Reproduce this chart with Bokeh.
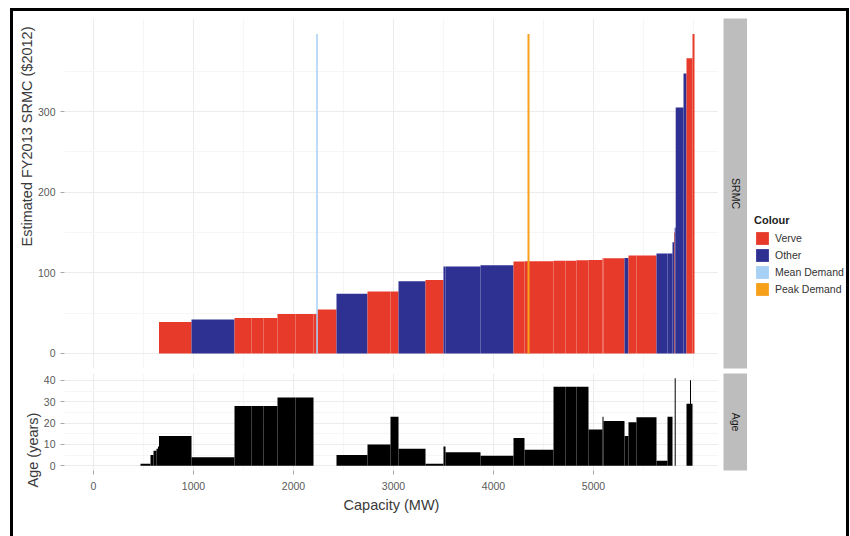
import numpy as np
from math import pi
from bokeh.plotting import figure
from bokeh.models import ColumnDataSource, Range1d, FixedTicker, Legend, LegendItem, Title, Spacer
from bokeh.layouts import row, column
from bokeh.embed import file_html
from bokeh.resources import INLINE
from bokeh.core.properties import value

nan = float("nan")

# ---------------- data (units in merit order) ----------------
capacity_mw = [470, 100, 30, 30, 15, 10, 325, 430, 170, 120, 140, 180, 180, 40, 190,
               310, 230, 80, 270, 180, 20, 350, 330, 110, 290, 120, 110, 120, 140, 10,
               210, 40, 80, 200, 110, 50, 15, 7, 10, 78, 30, 35, 10, 15, 20]
srmc = [0, 0, 0, 0, 0, 0, 39, 42, 44, 44, 44, 49, 49, 49, 54.5,
        74, 77, 77, 89.5, 91, 108, 108, 109.5, 114, 114.5, 115, 115, 115.5, 116, 118,
        118, 118.5, 121.5, 121.5, 124, 124, 138, 150, 156, 305, 347, 366, 366, 366, 396]
age_years = [nan, 1, 5, 7, 8, 9, 14, 4, 28, 28, 28, 32, 32, nan, nan,
             5, 10, 23, 8, 1, 9, 6.3, 4.7, 13, 7.5, 37, 37, 37, 17, 23,
             21, 14, 20.4, 22.7, 2.4, 23, nan, nan, 41, nan, nan, 29, 40, 29, nan]
owner = ["Other"] * 6 + ["Verve", "Other", "Verve", "Verve", "Verve", "Verve", "Verve", "Verve", "Verve",
         "Other", "Verve", "Verve", "Other", "Verve", "Other", "Other", "Other", "Verve", "Verve",
         "Verve", "Verve", "Verve", "Verve", "Verve", "Verve", "Other", "Verve", "Verve", "Other",
         "Other", "Other", "Verve", "Other", "Other", "Other", "Verve", "Verve", "Verve", "Verve"]
mean_demand_mw = 2235
peak_demand_mw = 4350

x_ticks = [0, 1000, 2000, 3000, 4000, 5000]
x_minor = [-500, 500, 1500, 2500, 3500, 4500, 5500, 6000]
srmc_ticks = [0, 100, 200, 300]
srmc_minor = [50, 150, 250, 350]
age_ticks = [0, 10, 20, 30, 40]
age_minor = [5, 15, 25, 35]

legend_labels = ["Verve", "Other", "Mean Demand", "Peak Demand"]
legend_colours = ["#e83a2b", "#2e3192", "#a6d0f4", "#f7a11a"]
owner_colour = {"Verve": legend_colours[0], "Other": legend_colours[1]}

# ---------------- derived ----------------
cap = np.array(capacity_mw, dtype=float)
right = np.cumsum(cap)
left = right - cap
srmc_a = np.array(srmc, dtype=float)
age_a = np.array(age_years, dtype=float)

top_src = ColumnDataSource(dict(left=left, right=right, top=srmc_a, bottom=np.zeros_like(srmc_a),
                                color=[owner_colour[o] for o in owner]))
m = ~np.isnan(age_a)
age_src = ColumnDataSource(dict(left=left[m], right=right[m], top=age_a[m], bottom=np.zeros(m.sum())))

FONT = "Liberation Sans"
GRID = "#ececec"
MINOR = "#f6f6f6"
TITLE_SIZE = "14.5px"


def style_axis(ax):
    ax.axis_line_color = None
    ax.major_tick_line_color = "#a8a8a8"
    ax.major_tick_out = 4
    ax.major_tick_in = 0
    ax.minor_tick_line_color = None
    ax.major_label_text_font = FONT
    ax.major_label_text_font_size = "10.5px"
    ax.major_label_text_color = "#5a5a5a"
    ax.major_label_standoff = 5


def style_grid(p):
    for g in (p.xgrid[0], p.ygrid[0]):
        g.grid_line_color = GRID
        g.minor_grid_line_color = MINOR


x_range = Range1d(-290, 6250)

# ---------------- top panel (SRMC) ----------------
p1 = figure(frame_width=654, frame_height=350, x_range=x_range, y_range=Range1d(-18.6, 415.3),
            x_axis_location=None, output_backend="svg", toolbar_location=None,
            min_border_left=51, min_border_right=0, min_border_top=7, min_border_bottom=5,
            outline_line_color=None, background_fill_color="white", border_fill_color="white")
p1.yaxis.ticker = FixedTicker(ticks=srmc_ticks, minor_ticks=srmc_minor)
p1.xgrid.ticker = FixedTicker(ticks=x_ticks, minor_ticks=x_minor)
style_axis(p1.yaxis[0])
style_grid(p1)
p1.quad(left="left", right="right", top="top", bottom="bottom", fill_color="color",
        line_color=None, source=top_src)
ymax = float(srmc_a.max())
p1.segment(x0=[mean_demand_mw], y0=[0], x1=[mean_demand_mw], y1=[ymax],
           line_color=legend_colours[2], line_width=1.5)
p1.segment(x0=[peak_demand_mw], y0=[0], x1=[peak_demand_mw], y1=[ymax],
           line_color=legend_colours[3], line_width=2)
p1.add_layout(Title(text="Estimated FY2013 SRMC ($2012)", align="right", offset=8, standoff=0,
                    text_font=FONT, text_font_size=TITLE_SIZE, text_font_style="normal",
                    text_color="#3a3a3a"), "left")

# ---------------- bottom panel (Age) ----------------
p2 = figure(frame_width=654, frame_height=97, x_range=x_range, y_range=Range1d(-2.2, 43.2),
            output_backend="svg", toolbar_location=None,
            min_border_left=51, min_border_right=0, min_border_top=0, min_border_bottom=66,
            outline_line_color=None, background_fill_color="white", border_fill_color="white")
p2.yaxis.ticker = FixedTicker(ticks=age_ticks, minor_ticks=age_minor)
p2.xaxis.ticker = FixedTicker(ticks=x_ticks, minor_ticks=x_minor)
style_axis(p2.yaxis[0])
style_axis(p2.xaxis[0])
p2.xaxis.major_label_standoff = 7
p2.xaxis.axis_label = "Capacity (MW)"
p2.xaxis.axis_label_text_font = FONT
p2.xaxis.axis_label_text_font_size = TITLE_SIZE
p2.xaxis.axis_label_text_font_style = "normal"
p2.xaxis.axis_label_text_color = "#3a3a3a"
p2.xaxis.axis_label_standoff = 4
style_grid(p2)
p2.quad(left="left", right="right", top="top", bottom="bottom", fill_color="black",
        line_color=None, source=age_src)
p2.add_layout(Title(text="Age (years)", align="left", offset=-17, standoff=0,
                    text_font=FONT, text_font_size=TITLE_SIZE, text_font_style="normal",
                    text_color="#3a3a3a"), "left")


# ---------------- facet strips ----------------
def strip(label, fh, top, bottom):
    s = figure(frame_width=24, frame_height=fh, x_range=Range1d(0, 1), y_range=Range1d(0, 1),
               x_axis_location=None, y_axis_location=None, output_backend="svg",
               toolbar_location=None, min_border_left=5, min_border_right=0,
               min_border_top=top, min_border_bottom=bottom, outline_line_color=None,
               background_fill_color="#bdbdbd", border_fill_color="white")
    s.grid.visible = False
    s.text(x=[0.5], y=[0.5], text=[label], angle=-pi / 2, text_align="center",
           text_baseline="middle", text_font=value(FONT), text_font_size="10.5px",
           text_color="#1a1a1a")
    return s


s1 = strip("SRMC", 350, 7, 5)
s2 = strip("Age", 97, 0, 66)

# ---------------- legend ----------------
lf = figure(width=99, height=525, x_range=Range1d(0, 1), y_range=Range1d(0, 1),
            x_axis_location=None, y_axis_location=None, output_backend="svg",
            toolbar_location=None, min_border=0, outline_line_color=None,
            background_fill_color="white", border_fill_color="white")
lf.grid.visible = False
items = []
for lab, col in zip(legend_labels, legend_colours):
    # keyed glyphs sit outside the visible range; only their legend swatches are drawn
    r = lf.quad(left=[5], right=[6], top=[6], bottom=[5], fill_color=col, line_color=None)
    items.append(LegendItem(label=lab, renderers=[r]))
leg = Legend(items=items, title="Colour", location=(7, 239), padding=0, margin=0, spacing=1,
             glyph_width=16, glyph_height=16, label_standoff=5,
             label_text_font=FONT, label_text_font_size="10.5px", label_text_color="#333333",
             title_text_font=FONT, title_text_font_size="11px", title_text_font_style="bold",
             title_text_color="#222222", title_standoff=4,
             border_line_color=None, background_fill_alpha=0)
lf.add_layout(leg)

# ---------------- frame / layout ----------------
black = {"background-color": "black"}
top_border = Spacer(width=839, height=3, styles=black)
left_border = Spacer(width=3, height=525, styles=black)
right_border = Spacer(width=3, height=525, styles=black)

panels = column(row(p1, s1), row(p2, s2))
framed = column(top_border, row(left_border, panels, lf, right_border))
layout = column(Spacer(width=849, height=8), row(Spacer(width=10, height=528), framed))

open("out.html", "w").write(file_html(layout, INLINE))
